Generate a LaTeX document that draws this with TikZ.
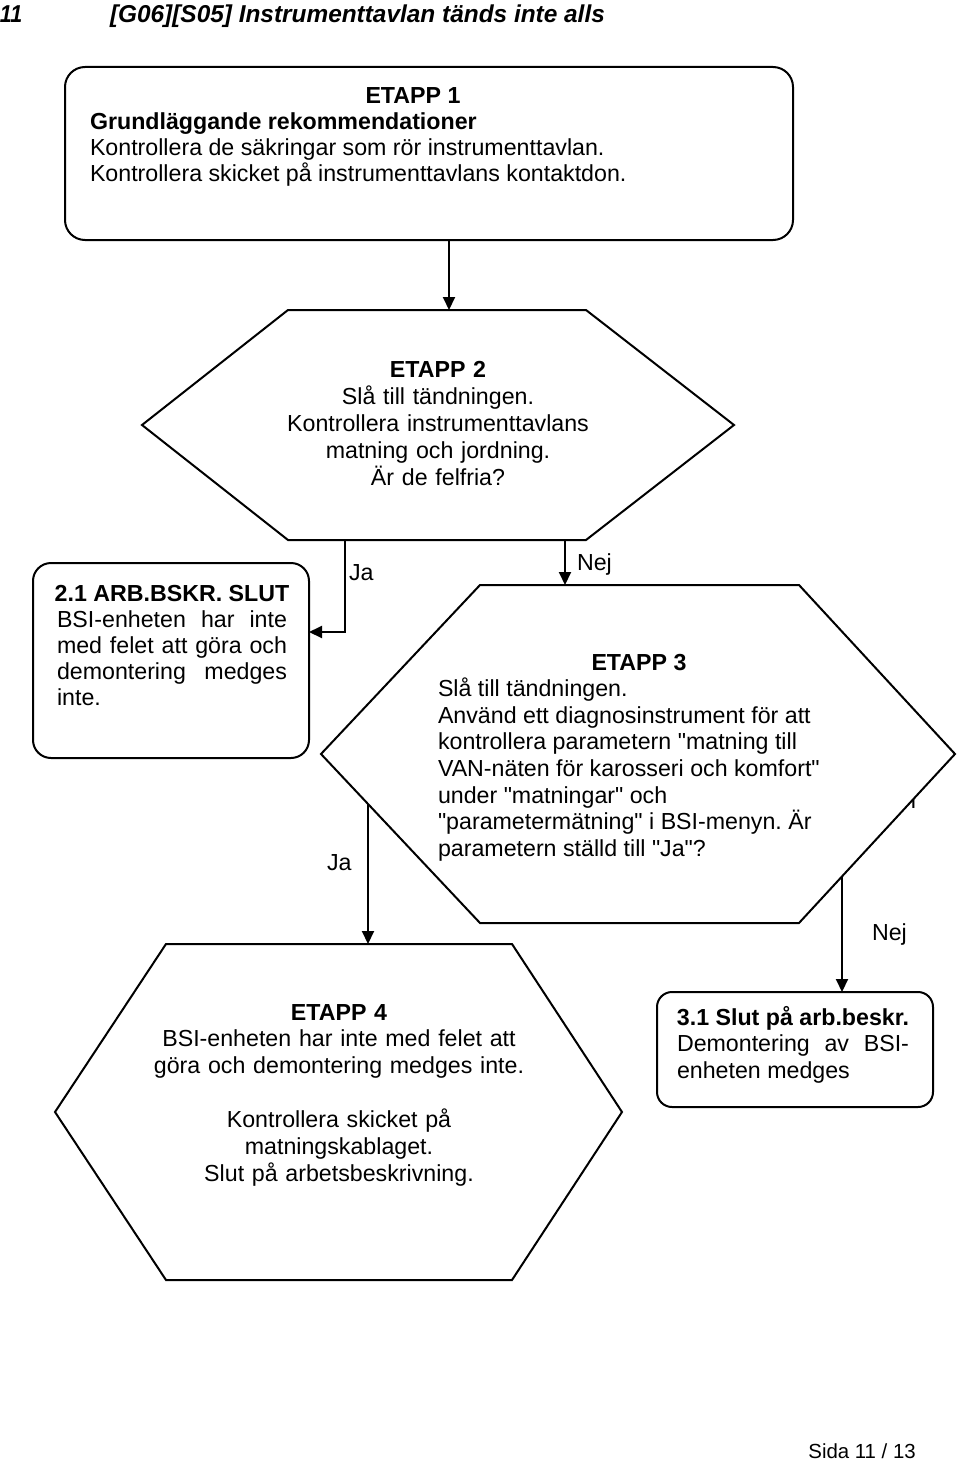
\documentclass[tikz,border=0pt]{standalone}
\usepackage{fontspec}
\setmainfont{Liberation Sans}[Ligatures=TeXOff]
\usetikzlibrary{arrows.meta}
\begin{document}
\frenchspacing
\begin{tikzpicture}[x=0.5pt,y=-0.5pt,
  shp/.style={draw, line width=1pt, fill=white},
  rbox/.style={shp, inner sep=0pt, outer sep=0pt},
  arr/.style={line width=1pt, -{Triangle[length=6.5pt,width=6pt]}},
  txt/.style={inner sep=0pt, outer sep=0pt, font=\fontsize{11.6}{13.3}\selectfont\frenchspacing},
  lbl/.style={txt, anchor=base west},
  ttl/.style={inner sep=0pt, outer sep=0pt, anchor=base west, font=\fontsize{12.2}{14}\selectfont\bfseries\itshape}]
\useasboundingbox (0,0) rectangle (960,1461);

% title
\node[ttl] (num) at (0,23) {\scalebox{0.88}[1]{11}};
\node[ttl] (title) at (110,23) {[G06][S05] Instrumenttavlan tänds inte alls};

% ETAPP 1 box
\node[rbox, rounded corners=10pt, minimum width=364pt, minimum height=86.5pt] (b1) at (429,153.5) {};
\node[txt, anchor=base west, text width=323pt, align=flush left, font=\fontsize{11.6}{13}\selectfont] (t1) at (90,104)
  {\makebox[\hsize]{\bfseries ETAPP 1}\\
   \textbf{Grundläggande rekommendationer}\\
   Kontrollera de säkringar som rör instrumenttavlan.\\
   Kontrollera skicket på instrumenttavlans kontaktdon.};

% ETAPP 2 hexagon
\coordinate (h2a) at (288,310);
\coordinate (h2b) at (586,310);
\coordinate (h2r) at (734,425);
\coordinate (h2c) at (586,540);
\coordinate (h2d) at (288,540);
\coordinate (h2l) at (142,425);
\draw[shp] (h2a) -- (h2b) -- (h2r) -- (h2c) -- (h2d) -- (h2l) -- cycle;
\node[txt, anchor=base, text width=200pt, align=center, font=\fontsize{11.6}{13.5}\selectfont] (t2) at (438,377)
  {\textbf{ETAPP 2}\\ Slå till tändningen.\\ Kontrollera instrumenttavlans\\ matning och jordning.\\ Är de felfria?};

% box 2.1
\node[rbox, rounded corners=9pt, minimum width=138pt, minimum height=97.5pt] (b21) at (171,660.5) {};
\node[txt, anchor=base west, text width=115pt, align=flush left, font=\fontsize{11.6}{13}\selectfont] (t21) at (57,601)
  {\makebox[\hsize]{\bfseries 2.1 ARB.BSKR. SLUT}\\
   \makebox[\hsize][s]{BSI-enheten har inte}\\
   \makebox[\hsize][s]{med felet att göra och}\\
   \makebox[\hsize][s]{demontering medges}\\
   inte.};

% hidden fragment behind hexagon 3
\node[lbl] (frag) at (903,808) {n};

% ETAPP 3 hexagon
\coordinate (h3a) at (480,585);
\coordinate (h3b) at (799,585);
\coordinate (h3r) at (955,754);
\coordinate (h3c) at (799,923);
\coordinate (h3d) at (480,923);
\coordinate (h3l) at (321,754);
\draw[shp] (h3a) -- (h3b) -- (h3r) -- (h3c) -- (h3d) -- (h3l) -- cycle;
\node[txt, anchor=base west, text width=201pt, align=flush left] (t3) at (438,670)
  {\makebox[\hsize]{\bfseries ETAPP 3}\\
   Slå till tändningen.\\
   Använd ett diagnosinstrument för att\\
   kontrollera parametern "matning till\\
   VAN-näten för karosseri och komfort"\\
   under "matningar" och\\
   "parametermätning" i BSI-menyn. Är\\
   parametern ställd till "Ja"?};

% ETAPP 4 hexagon
\coordinate (h4a) at (166,944);
\coordinate (h4b) at (512,944);
\coordinate (h4r) at (622,1112);
\coordinate (h4c) at (512,1280);
\coordinate (h4d) at (166,1280);
\coordinate (h4l) at (55,1112);
\draw[shp] (h4a) -- (h4b) -- (h4r) -- (h4c) -- (h4d) -- (h4l) -- cycle;
\node[txt, anchor=base, text width=240pt, align=center] (t4) at (339,1020)
  {\textbf{ETAPP 4}\\ BSI-enheten har inte med felet att\\ göra och demontering medges inte.\\[14pt]
   Kontrollera skicket på\\ matningskablaget.\\ Slut på arbetsbeskrivning.};

% box 3.1
\node[rbox, rounded corners=7.5pt, minimum width=138pt, minimum height=57.5pt] (b31) at (795,1049.5) {};
\node[txt, anchor=base west, text width=116pt, align=flush left, font=\fontsize{11.6}{13.25}\selectfont] (t31) at (677,1025)
  {\makebox[\hsize]{\bfseries 3.1 Slut på arb.beskr.}\\
   \makebox[\hsize][s]{Demontering av BSI-}\\
   enheten medges};

% connectors
\coordinate (h2in) at (449,310);
\draw[arr] (b1.south -| h2in) -- (h2in);

\coordinate (h2ja) at (345,540);
\coordinate (jaturn) at (345,632);
\draw[arr] (h2ja) -- (jaturn) -- (jaturn -| b21.east);
\node[lbl] (lja1) at (349,580) {Ja};

\coordinate (h2nej) at (565,540);
\draw[arr] (h2nej) -- (h2nej |- h3a);
\node[lbl] (lnej1) at (577,570) {Nej};

\coordinate (h3ja) at (368,804);
\coordinate (h4in) at (368,944);
\draw[arr] (h3ja) -- (h4in);
\node[lbl] (lja2) at (327,870) {Ja};

\coordinate (h3nej) at (842,876.4);
\draw[arr] (h3nej) -- (h3nej |- b31.north);
\node[lbl] (lnej2) at (872,940) {Nej};

% footer
\node[inner sep=0pt, anchor=base west, font=\fontsize{10.2}{12}\selectfont] (foot) at (808,1458) {Sida 11 / 13};
\end{tikzpicture}
\end{document}
